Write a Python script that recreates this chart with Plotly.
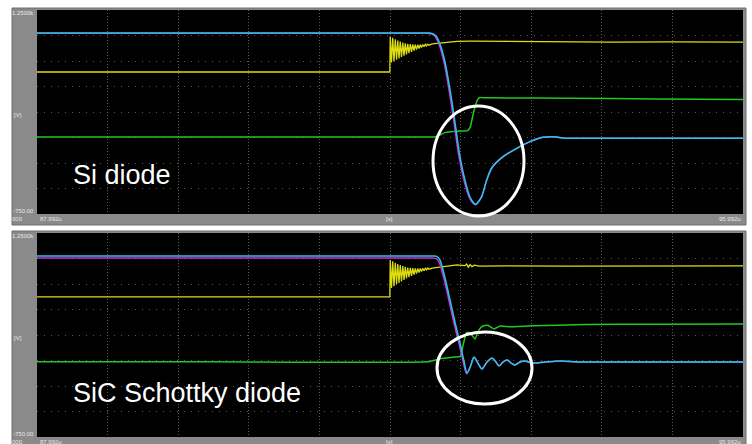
import plotly.graph_objects as go

W, H = 752, 444

# ---------------- DATA (time in µs, voltage in V) ----------------
x_tick_labels = ["87.992u", "[s]", "95.992u"]
y_tick_labels = ["1.2500k", "[V]", "-750.00"]
panel_titles = ["Si diode", "SiC Schottky diode"]

# ---- Top panel: Si diode ----
si_cyan_t = [87.992, 90.000, 92.300, 92.430, 92.468, 92.513, 92.558, 92.615, 92.672, 92.728,
             92.785, 92.842, 92.898, 92.944, 92.966, 92.985, 93.031, 93.088, 93.145, 93.273,
             93.428, 93.579, 93.726, 93.840, 93.953, 94.300, 95.992]
si_cyan_v = [1025, 1025, 1025, 1024, 1020, 995, 917, 740, 466, 150,
             -191, -420, -583, -645, -655, -640, -580, -417, -299, -188,
             -106, -41, 2, 8, -5, -8, -8]
si_mag_t = [87.992, 90.000, 92.300, 92.420, 92.460, 92.503, 92.548, 92.605, 92.662, 92.718,
            92.775, 92.832, 92.890, 92.938, 92.962, 92.983, 93.031, 93.088, 93.145, 93.273,
            93.428, 93.579, 93.726, 93.840, 93.953, 94.300, 95.992]
si_mag_v = [1022, 1022, 1022, 1021, 1017, 992, 912, 735, 460, 145,
            -196, -425, -588, -650, -660, -642, -580, -417, -299, -188,
            -106, -41, 2, 8, -5, -8, -8]
si_yel_t = [87.992, 91.990,
            91.995, 92.009, 92.023, 92.037, 92.052, 92.066, 92.080, 92.094,
            92.108, 92.122, 92.137, 92.151, 92.165, 92.179, 92.193, 92.207,
            92.222, 92.236, 92.250, 92.264, 92.278, 92.292, 92.307, 92.321,
            92.335, 92.349, 92.363, 92.378, 92.392, 92.406, 92.420, 92.434,
            92.470, 92.550, 92.650, 92.750, 92.900, 93.200, 93.800, 94.500, 95.200, 95.992]
si_yel_v = [642, 642,
            990, 735, 978, 748, 962, 762, 950, 776,
            940, 790, 930, 802, 924, 815, 918, 828,
            915, 840, 912, 852, 910, 862, 910, 872,
            910, 882, 912, 890, 914, 898, 915, 905,
            918, 926, 935, 942, 944, 942, 938, 936, 938, 936]
si_grn_t = [87.992, 90.000, 92.450, 92.520, 92.620, 92.750, 92.870, 92.900, 92.940, 92.980,
            93.010, 93.050, 93.300, 94.000, 95.000, 95.992]
si_grn_v = [5, 5, 5, 10, 50, 62, 68, 100, 250, 365,
            392, 390, 388, 385, 378, 372]

# ---- Bottom panel: SiC Schottky diode ----
sic_cyan_t = [87.992, 90.000, 92.350, 92.490, 92.525, 92.559, 92.615, 92.672, 92.728, 92.785,
              92.830, 92.865, 92.905, 92.944, 92.989, 93.034, 93.091, 93.148, 93.193, 93.227,
              93.272, 93.318, 93.363, 93.408, 93.465, 93.522, 93.601, 93.748, 93.918, 94.145,
              94.600, 95.992]
sic_cyan_v = [1025, 1025, 1025, 1024, 1018, 985, 809, 593, 377, 172,
              -5, -123, -54, 34, -25, -83, -15, 25, -15, -54,
              -15, 5, -25, -44, -15, -5, -25, -15, -5, -15,
              -15, -15]
sic_mag_t = [87.992, 90.000, 92.350, 92.480, 92.515, 92.549, 92.605, 92.662, 92.718, 92.775,
             92.822, 92.860, 92.902, 92.944, 92.989, 93.034, 93.091, 93.148, 93.193, 93.227,
             93.272, 93.318, 93.363, 93.408, 93.465, 93.522, 93.601, 93.748, 93.918, 94.145,
             94.600, 95.992]
sic_mag_v = [1005, 1005, 1005, 1004, 998, 965, 795, 580, 365, 160,
             -15, -130, -58, 30, -28, -80, -15, 22, -15, -52,
             -15, 5, -25, -44, -15, -5, -25, -15, -5, -15,
             -15, -15]
sic_yel_t = [87.992, 91.990,
             91.995, 92.009, 92.023, 92.037, 92.052, 92.066, 92.080, 92.094,
             92.108, 92.122, 92.137, 92.151, 92.165, 92.179, 92.193, 92.207,
             92.222, 92.236, 92.250, 92.264, 92.278, 92.292, 92.307, 92.321,
             92.335, 92.349, 92.363, 92.378, 92.392, 92.406, 92.420, 92.434,
             92.470, 92.550, 92.650, 92.750, 92.840, 92.860, 92.880, 92.900, 92.920, 92.950,
             93.000, 93.300, 94.000, 95.000, 95.992]
sic_yel_v = [623, 623,
             985, 712, 972, 728, 958, 745, 946, 760,
             936, 775, 926, 790, 918, 804, 912, 816,
             908, 830, 905, 842, 903, 852, 902, 862,
             902, 872, 903, 880, 905, 888, 906, 895,
             905, 915, 930, 938, 930, 945, 915, 940, 920, 935,
             925, 928, 926, 924, 928]
sic_grn_t = [87.992, 90.000, 92.420, 92.550, 92.720, 92.790, 92.820, 92.860, 92.900, 92.955,
             93.000, 93.046, 93.100, 93.170, 93.240, 93.350, 93.600, 94.200, 95.000, 95.992]
sic_grn_v = [-12, -12, -12, 15, 34, 40, 150, 275, 270, 211,
             300, 338, 345, 309, 338, 330, 340, 352, 356, 358]

# ---------------- STYLE ----------------
C_CYAN = "#22c8ea"
C_MAG = "#d42ad4"
C_YEL = "#dede10"
C_GRN = "#22c822"
FRAME = "#8a8a8a"
X_RANGE = [87.992, 95.992]
Y_RANGE = [-750, 1250]


def px_x(p):
    return p / W


def px_y(p):
    return 1 - p / H


fig = go.Figure()

panels = [
    ("x", "y", si_grn_t, si_grn_v, si_yel_t, si_yel_v, si_mag_t, si_mag_v, si_cyan_t, si_cyan_v),
    ("x2", "y2", sic_grn_t, sic_grn_v, sic_yel_t, sic_yel_v, sic_mag_t, sic_mag_v, sic_cyan_t, sic_cyan_v),
]
for xa, ya, gt, gv, yt, yv, mt, mv, ct, cv in panels:
    fig.add_trace(go.Scatter(x=gt, y=gv, mode="lines",
                             line=dict(color=C_GRN, width=1.5, shape="spline", smoothing=0.4),
                             xaxis=xa, yaxis=ya, showlegend=False))
    fig.add_trace(go.Scatter(x=yt, y=yv, mode="lines", line=dict(color=C_YEL, width=1.3),
                             xaxis=xa, yaxis=ya, showlegend=False))
    fig.add_trace(go.Scatter(x=mt, y=mv, mode="lines",
                             line=dict(color=C_MAG, width=1.5, shape="spline", smoothing=0.8),
                             xaxis=xa, yaxis=ya, showlegend=False))
    fig.add_trace(go.Scatter(x=ct, y=cv, mode="lines",
                             line=dict(color=C_CYAN, width=1.5, shape="spline", smoothing=0.8),
                             xaxis=xa, yaxis=ya, showlegend=False))

# plot areas (pixels)
PL, PR = 37, 743
TOP_T, TOP_B = 10, 214
BOT_T, BOT_B = 233, 437

axis_common = dict(showticklabels=False, ticks="", zeroline=False, showline=False,
                   gridcolor="#5a5a5a", gridwidth=1)
fig.update_layout(
    width=W, height=H,
    margin=dict(l=0, r=0, t=0, b=0),
    paper_bgcolor="white",
    plot_bgcolor="black",
    xaxis=dict(domain=[px_x(PL), px_x(PR)], range=X_RANGE, tick0=87.992, dtick=0.8,
               anchor="y", griddash="1px,2px", **axis_common),
    yaxis=dict(domain=[px_y(TOP_B), px_y(TOP_T)], range=Y_RANGE, tick0=-750, dtick=250,
               anchor="x", griddash="1px,6px", **axis_common),
    xaxis2=dict(domain=[px_x(PL), px_x(PR)], range=X_RANGE, tick0=87.992, dtick=0.8,
                anchor="y2", griddash="1px,2px", **axis_common),
    yaxis2=dict(domain=[px_y(BOT_B), px_y(BOT_T)], range=Y_RANGE, tick0=-750, dtick=250,
                anchor="x2", griddash="1px,6px", **axis_common),
)

shapes = []
# gray frames
for (t, b) in [(8, 225), (231, 446)]:
    shapes.append(dict(type="rect", xref="paper", yref="paper", layer="below",
                       x0=px_x(12), x1=px_x(746), y0=px_y(b), y1=px_y(t),
                       fillcolor=FRAME, line=dict(color="#6f6f6f", width=1)))
# black plot areas (over the frames, under the grid)
for (t, b) in [(TOP_T, TOP_B), (BOT_T, BOT_B)]:
    shapes.append(dict(type="rect", xref="paper", yref="paper", layer="below",
                       x0=px_x(PL), x1=px_x(PR), y0=px_y(b), y1=px_y(t),
                       fillcolor="black", line=dict(width=0)))
# highlight ellipses
for (x0, x1, y0, y1) in [(433, 524, 106, 216), (437, 532, 332, 404)]:
    shapes.append(dict(type="circle", xref="paper", yref="paper", layer="above",
                       x0=px_x(x0), x1=px_x(x1), y0=px_y(y1), y1=px_y(y0),
                       line=dict(color="white", width=3)))
fig.update_layout(shapes=shapes)

ann = []
small = dict(family="Liberation Sans, Arial, sans-serif", size=6, color="#e8e8e8")
for top, bottom in [(TOP_T, TOP_B), (BOT_T, BOT_B)]:
    ann.append(dict(x=px_x(35), y=px_y(top + 3), text=y_tick_labels[0], xanchor="right", yanchor="middle"))
    ann.append(dict(x=px_x(13), y=px_y(top + 105), text=y_tick_labels[1], xanchor="left", yanchor="middle"))
    ann.append(dict(x=px_x(35), y=px_y(bottom - 3), text=y_tick_labels[2], xanchor="right", yanchor="middle"))
    ann.append(dict(x=px_x(39), y=px_y(bottom + 5), text=x_tick_labels[0], xanchor="left", yanchor="middle"))
    ann.append(dict(x=px_x(390), y=px_y(bottom + 5), text=x_tick_labels[1], xanchor="center", yanchor="middle"))
    ann.append(dict(x=px_x(742), y=px_y(bottom + 5), text=x_tick_labels[2], xanchor="right", yanchor="middle"))
    ann.append(dict(x=px_x(11), y=px_y(bottom + 5), text="000", xanchor="left", yanchor="middle"))
for a in ann:
    a.update(xref="paper", yref="paper", showarrow=False, font=small, borderpad=0)

big = dict(family="Liberation Sans, Arial, sans-serif", size=27, color="white")
ann.append(dict(x=px_x(71), y=px_y(175), text=panel_titles[0], xanchor="left", yanchor="middle",
                xref="paper", yref="paper", showarrow=False, font=big))
ann.append(dict(x=px_x(71), y=px_y(393), text=panel_titles[1], xanchor="left", yanchor="middle",
                xref="paper", yref="paper", showarrow=False, font=big))
fig.update_layout(annotations=ann)

fig.write_html(
    "out.html",
    config={"displayModeBar": False},
    post_script="document.body.style.margin='0';document.body.style.overflow='hidden';",
)
